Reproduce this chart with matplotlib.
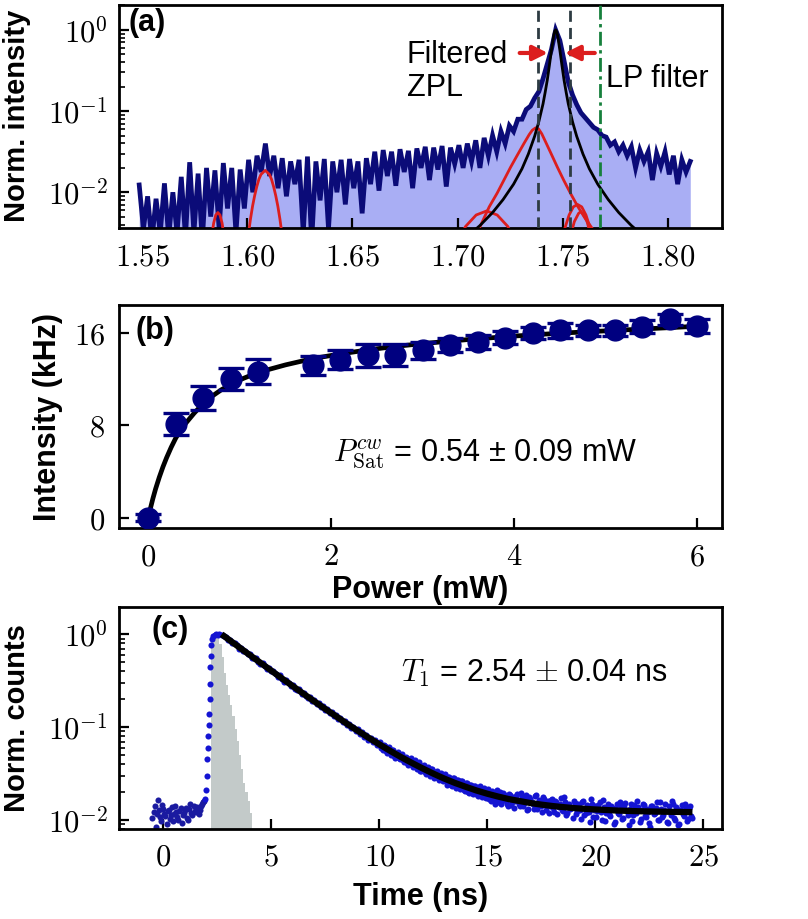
import matplotlib.pyplot as plt
import numpy as np
from matplotlib.ticker import FixedLocator, FuncFormatter, NullFormatter

# ---------------------------------------------------------------- (a) spectrum
# log10 of the normalized PL intensity, sampled every 2 meV from 1.5486 eV
spec_start = 1.5486
spec_step = 0.002
spec_log10 = [
    -1.91, -2.45, -2.05, -2.60, -2.08, -2.50, -1.89, -2.55, -2.00, -2.50,
    -1.81, -2.55, -1.63, -2.50, -1.77, -2.60, -1.70, -2.30, -1.73, -2.45,
    -1.64, -2.20, -1.70, -2.50, -1.72, -2.20, -1.60, -2.00, -1.55, -1.75,
    -1.40, -1.80, -1.55, -1.95, -1.58, -2.05, -1.62, -1.90, -1.60, -2.50,
    -1.56, -2.60, -1.62, -2.10, -1.59, -2.45, -1.62, -2.00, -1.60, -2.15,
    -1.59, -1.95, -1.62, -2.26, -1.58, -1.90, -1.50, -1.98, -1.48, -1.80,
    -1.50, -1.92, -1.47, -1.75, -1.49, -1.95, -1.46, -1.70, -1.44, -1.85,
    -1.45, -1.72, -1.43, -1.93, -1.45, -1.65, -1.42, -1.70, -1.40, -1.62,
    -1.36, -1.70, -1.33, -1.55, -1.30, -1.50, -1.25, -1.40, -1.18, -1.25,
    -1.10, -1.10, -0.98, -0.94, -0.84, -0.76, -0.60, -0.42, -0.24, 0.00,
    -0.13, -0.38, -0.64, -0.80, -0.92, -1.02, -1.08, -1.14, -1.20, -1.23,
    -1.30, -1.32, -1.42, -1.38, -1.50, -1.42, -1.55, -1.44, -1.70, -1.48,
    -1.62, -1.50, -1.85, -1.52, -1.68, -1.50, -1.78, -1.55, -1.90, -1.60,
    -1.75, -1.62,
]

# ZPL Lorentzian fit (black)
zpl_energy = [
    1.7066, 1.7106, 1.7166, 1.7216, 1.7266, 1.7306, 1.7336, 1.7366, 1.7386,
    1.7406, 1.7416, 1.7426, 1.7436, 1.7446, 1.7456, 1.7461, 1.7466, 1.7471,
    1.7476, 1.7486, 1.7496, 1.7506, 1.7516, 1.7526, 1.7546, 1.7566, 1.7596,
    1.7626, 1.7666, 1.7716, 1.7766, 1.7826, 1.7866,
]
zpl_log10 = [
    -2.50, -2.41, -2.25, -2.09, -1.90, -1.71, -1.53, -1.31, -1.13,
    -0.91, -0.77, -0.62, -0.44, -0.25, -0.08, -0.02, 0.00, -0.02,
    -0.08, -0.25, -0.44, -0.62, -0.77, -0.91, -1.13, -1.31, -1.53,
    -1.71, -1.90, -2.09, -2.25, -2.41, -2.50,
]

# phonon side band components (red)
psb1_energy = [1.582, 1.583, 1.584, 1.585, 1.586, 1.587, 1.588, 1.589, 1.590]
psb1_log10 = [-2.78, -2.55, -2.38, -2.28, -2.25, -2.28, -2.38, -2.55, -2.78]

psb2_energy = [1.5985, 1.6005, 1.6015, 1.6025, 1.6035, 1.6045, 1.6055, 1.6065,
               1.6085, 1.6105, 1.6115, 1.6125, 1.6135, 1.6145, 1.6155, 1.6165,
               1.6185]
psb2_log10 = [-2.96, -2.52, -2.33, -2.17, -2.04, -1.93, -1.84, -1.78,
              -1.73, -1.78, -1.84, -1.93, -2.04, -2.17, -2.33, -2.52,
              -2.96]

psb3_energy = [1.6938, 1.6988, 1.7038, 1.7088, 1.7138, 1.7188, 1.7238,
               1.7288, 1.7338]
psb3_log10 = [-2.99, -2.66, -2.42, -2.28, -2.23, -2.28, -2.42, -2.66, -2.99]

psb4_energy = [1.700, 1.705, 1.710, 1.7125, 1.715, 1.7188, 1.722, 1.7252,
               1.728, 1.7315, 1.734, 1.7355, 1.7371, 1.7385, 1.740, 1.7411,
               1.744, 1.7474, 1.7505, 1.7538, 1.757, 1.7601, 1.7641, 1.768,
               1.772]
psb4_log10 = [-2.95, -2.72, -2.46, -2.32, -2.18, -2.01, -1.85, -1.69,
              -1.56, -1.40, -1.29, -1.235, -1.206, -1.22, -1.28, -1.34,
              -1.50, -1.69, -1.855, -2.02, -2.17, -2.30, -2.45, -2.62,
              -2.80]

psb5_energy = [1.749, 1.751, 1.753, 1.755, 1.757, 1.759, 1.761, 1.763, 1.765]
psb5_log10 = [-2.67, -2.44, -2.28, -2.18, -2.15, -2.18, -2.28, -2.44, -2.67]

psb6_energy = [1.7515, 1.7535, 1.7555, 1.7575, 1.7585, 1.7595, 1.7615,
               1.7635, 1.7655]
psb6_log10 = [-2.85, -2.55, -2.36, -2.26, -2.24, -2.26, -2.36, -2.55, -2.85]

filter_edges = [1.7384, 1.7534]
lp_filter = 1.7676

# ---------------------------------------------------------- (b) saturation
power = [0.0, 0.3, 0.6, 0.9, 1.2, 1.8, 2.1, 2.4, 2.7, 3.0,
         3.3, 3.6, 3.9, 4.2, 4.5, 4.8, 5.1, 5.4, 5.7, 6.0]
count_rate = [0.0, 8.1, 10.35, 12.0, 12.65, 13.2, 13.7, 14.1, 14.1, 14.5,
              14.95, 15.25, 15.6, 16.0, 16.25, 16.25, 16.25, 16.55, 17.2, 16.6]
count_err = [0.3, 0.95, 1.05, 0.95, 1.1, 0.85, 0.8, 1.0, 0.95, 0.75,
             0.6, 0.6, 0.55, 0.5, 0.65, 0.5, 0.5, 0.55, 0.5, 0.6]

sat_power = [0, 0.02, 0.05, 0.08, 0.12, 0.16, 0.2, 0.25, 0.3, 0.35, 0.4,
             0.5, 0.6, 0.7, 0.8, 1.0, 1.2, 1.5, 1.8, 2.1, 2.4, 2.7, 3.0,
             3.5, 4.0, 4.5, 5.0, 5.5, 6.0]
sat_rate = [0, 0.7, 1.65, 2.5, 3.5, 4.4, 5.2, 6.1, 6.9, 7.55, 8.1,
            9.05, 9.9, 10.55, 11.1, 11.95, 12.6, 13.25, 13.8, 14.2, 14.55,
            14.85, 15.1, 15.45, 15.75, 16.0, 16.2, 16.4, 16.6]

# ------------------------------------------------------------ (c) lifetime
# counts on a 0.1 ns grid, plus a second set offset by 0.05 ns
pre_start = -0.5
pre_counts = [
    0.0105, 0.0140, 0.0115, 0.0128, 0.0098, 0.0132, 0.0110, 0.0125, 0.0102,
    0.0138, 0.0115, 0.0122, 0.0100, 0.0135, 0.0112, 0.0128, 0.0105, 0.0130,
    0.0118, 0.0140, 0.0122, 0.0135, 0.0128, 0.0150, 0.0160,
]
pre_b_start = -0.45
pre_b_counts = [
    0.0122, 0.0085, 0.0166, 0.0108, 0.0145, 0.0115, 0.0090, 0.0128, 0.0112,
    0.0098, 0.0142, 0.0108, 0.0125, 0.0092, 0.0118, 0.0135, 0.0100, 0.0148,
    0.0112, 0.0125, 0.0138, 0.0115, 0.0142, 0.0155,
]

rise_time = [1.95, 2.0, 2.02, 2.04, 2.06, 2.08, 2.10, 2.12, 2.14, 2.16,
             2.18, 2.20, 2.23, 2.27, 2.32, 2.38, 2.45, 2.52, 2.6]
rise_counts = [0.017, 0.021, 0.03, 0.045, 0.06, 0.08, 0.105, 0.14, 0.2, 0.29,
               0.44, 0.58, 0.77, 0.90, 0.95, 0.98, 1.0, 0.99, 1.0]

decay_start = 2.7
decay_counts = [
    0.99, 0.97, 0.93, 0.87, 0.86, 0.80, 0.81, 0.77, 0.70, 0.72,
    0.66, 0.66, 0.61, 0.62, 0.56, 0.55, 0.55, 0.50, 0.48, 0.49,
    0.45, 0.42, 0.43, 0.40, 0.40, 0.37, 0.35, 0.36, 0.33, 0.31,
    0.32, 0.30, 0.28, 0.285, 0.26, 0.25, 0.255, 0.23, 0.235, 0.215,
    0.205, 0.21, 0.19, 0.195, 0.178, 0.18, 0.164, 0.167, 0.152, 0.156,
    0.142, 0.145, 0.131, 0.134, 0.121, 0.126, 0.114, 0.116, 0.105, 0.109,
    0.098, 0.101, 0.092, 0.095, 0.085, 0.088, 0.079, 0.083, 0.073, 0.077,
    0.070, 0.072, 0.064, 0.068,
    0.060, 0.064, 0.056, 0.060, 0.053, 0.057, 0.049, 0.053, 0.047, 0.050,
    0.044, 0.047, 0.041, 0.045, 0.039, 0.042, 0.037, 0.040, 0.034, 0.038,
    0.033, 0.036, 0.031, 0.035, 0.030, 0.033, 0.028, 0.031, 0.027, 0.030,
    0.026, 0.029, 0.024, 0.028, 0.023, 0.027, 0.0225, 0.026, 0.021, 0.025,
    0.020, 0.024, 0.0195, 0.023, 0.019, 0.022, 0.0185, 0.021, 0.0175, 0.021,
    0.0170, 0.0205, 0.0168, 0.0195, 0.0158, 0.0200, 0.0162, 0.0185, 0.0150,
    0.0190, 0.0145, 0.0178, 0.0160, 0.0192, 0.0140, 0.0175, 0.0152, 0.0185,
    0.0133, 0.0170, 0.0148, 0.0180, 0.0130, 0.0165, 0.0143, 0.0176, 0.0128,
    0.0160, 0.0140, 0.0168, 0.0122, 0.0158, 0.0138, 0.0172, 0.0125, 0.0155,
    0.0118, 0.0150, 0.0135, 0.0162, 0.0115, 0.0148, 0.0128, 0.0158, 0.0112,
    0.0145, 0.0122, 0.0168, 0.0108, 0.0142, 0.0125, 0.0155, 0.0100, 0.0138,
    0.0118, 0.0150, 0.0110, 0.0135, 0.0095, 0.0148, 0.0115, 0.0140, 0.0105,
    0.0152, 0.0112, 0.0132, 0.0098, 0.0145, 0.0118, 0.0138, 0.0102, 0.0150,
    0.0110, 0.0130, 0.0092, 0.0142, 0.0115, 0.0135, 0.0100, 0.0155, 0.0108,
    0.0128, 0.0096, 0.0140, 0.0112, 0.0148, 0.0100, 0.0132, 0.0090, 0.0145,
    0.0110, 0.0135, 0.0102, 0.0140, 0.0105,
]
tail_b_start = 10.05
tail_b_counts = [
    0.069, 0.057, 0.063, 0.053, 0.061, 0.050, 0.057, 0.047, 0.054, 0.045,
    0.051, 0.042, 0.048, 0.039, 0.046, 0.037, 0.044, 0.035, 0.042, 0.034,
    0.039, 0.031, 0.037, 0.030, 0.035, 0.028, 0.034, 0.027, 0.032, 0.026,
    0.031, 0.024, 0.029, 0.023, 0.028, 0.022, 0.027, 0.0215, 0.026, 0.0205,
    0.025, 0.0195, 0.024, 0.019, 0.0235, 0.018, 0.023, 0.0178, 0.022, 0.0172,
    0.0215, 0.0160, 0.0190, 0.0150, 0.0210, 0.0172, 0.0148, 0.0195, 0.0165,
    0.0140, 0.0185, 0.0158, 0.0135, 0.0180, 0.0150, 0.0195, 0.0142, 0.0168,
    0.0128, 0.0175, 0.0155, 0.0130, 0.0185, 0.0140, 0.0162, 0.0122, 0.0170,
    0.0148, 0.0118, 0.0165, 0.0135, 0.0160, 0.0115, 0.0150, 0.0128, 0.0178,
    0.0112, 0.0145, 0.0132, 0.0105, 0.0152, 0.0125, 0.0140, 0.0102, 0.0160,
    0.0118, 0.0138, 0.0095, 0.0150, 0.0128, 0.0108, 0.0145, 0.0122, 0.0165,
    0.0098, 0.0135, 0.0115, 0.0142, 0.0090, 0.0130, 0.0120, 0.0155, 0.0102,
    0.0138, 0.0125, 0.0088, 0.0148, 0.0112, 0.0130, 0.0160, 0.0095, 0.0128,
    0.0145, 0.0108, 0.0122, 0.0085, 0.0140, 0.0118, 0.0158, 0.0100, 0.0132,
    0.0112, 0.0150, 0.0092, 0.0125, 0.0162, 0.0105, 0.0138, 0.0088, 0.0128,
    0.0115, 0.0150, 0.0098, 0.0135, 0.0110,
]

fit_time = [2.7, 3.0, 3.5, 4.0, 4.5, 5.0, 5.5, 6.0, 6.5, 7.0, 7.5, 8.0,
            8.5, 9.0, 9.5, 10.0, 10.5, 11.0, 11.5, 12.0, 12.5, 13.0, 13.5,
            14.0, 14.5, 15.0, 15.5, 16.0, 16.5, 17.0, 17.5, 18.0, 18.5,
            19.0, 19.5, 20.0, 21.0, 22.0, 23.0, 24.5]
fit_counts = [1.0, 0.888, 0.729, 0.599, 0.493, 0.406, 0.334, 0.276, 0.228,
              0.189, 0.157, 0.131, 0.109, 0.0915, 0.0771, 0.0653, 0.0556,
              0.0477, 0.0413, 0.0360, 0.0316, 0.0280, 0.0251, 0.0228,
              0.0208, 0.0192, 0.0179, 0.0168, 0.0160, 0.01524, 0.01466,
              0.01417, 0.01378, 0.01345, 0.0132, 0.0130, 0.01265, 0.01244,
              0.0123, 0.01216]

# instrument response histogram: bin edges and log10 of each bin
irf_edges = [2.22, 2.3, 2.4, 2.5, 2.6, 2.7, 2.8, 2.9, 3.0, 3.1, 3.2, 3.3,
             3.4, 3.5, 3.6, 3.7, 3.8, 3.9, 4.0, 4.1]
irf_log10 = [-0.05, -0.02, 0.0, -0.03, -0.10, -0.25, -0.42, -0.55, -0.65,
             -0.76, -0.88, -1.02, -1.15, -1.30, -1.45, -1.60, -1.70, -1.80,
             -1.92]

# ------------------------------------------------------------------ styling
NAVY = "#0b0b78"
FILL = "#a9aef4"
RED = "#dc1e1e"
SCAT = "#1414d2"
IRF = "#c3cac9"

plt.rcParams["font.family"] = ["Liberation Sans", "DejaVu Sans"]
plt.rcParams["mathtext.fontset"] = "cm"
plt.rcParams["axes.linewidth"] = 2.0

TICK_FS = 22
LABEL_FS = 22

fig = plt.figure(figsize=(8.08, 9.19), dpi=100)

ax_a = fig.add_axes([0.1473, 0.7516, 0.7463, 0.2430])
ax_b = fig.add_axes([0.1473, 0.4252, 0.7463, 0.2430])
ax_c = fig.add_axes([0.1473, 0.0979, 0.7463, 0.2419])


def style_axis(ax):

    ax.tick_params(
        which="major",
        direction="in",
        length=7,
        width=1.6,
        labelsize=TICK_FS,
        top=False,
        right=False,
    )

    ax.tick_params(axis="x", pad=10)
    ax.tick_params(axis="y", pad=8)

    ax.tick_params(
        which="minor",
        direction="in",
        length=4,
        width=1.2,
        top=False,
        right=False,
    )


def log_labels(value, pos):

    return r"$10^{%d}$" % int(round(np.log10(value)))


# --------------------------------------------------------------- panel (a)
energy = np.round(spec_start + spec_step * np.arange(len(spec_log10)), 4)
spectrum = np.power(10.0, spec_log10)

ax_a.fill_between(energy, 1e-5, spectrum, color=FILL, lw=0, zorder=1)
ax_a.plot(energy, spectrum, color=NAVY, lw=3.4, zorder=2,
          solid_joinstyle="miter")

for e, v in [
    (psb1_energy, psb1_log10),
    (psb2_energy, psb2_log10),
    (psb3_energy, psb3_log10),
    (psb4_energy, psb4_log10),
    (psb5_energy, psb5_log10),
    (psb6_energy, psb6_log10),
]:
    ax_a.plot(e, np.power(10.0, v), color=RED, lw=2.0, zorder=3)

ax_a.plot(zpl_energy, np.power(10.0, zpl_log10), color="black", lw=2.0, zorder=4)

for edge in filter_edges:
    ax_a.axvline(edge, color="#2d3b42", lw=2.0, ls=(0, (4, 2.2)), zorder=5)

ax_a.axvline(lp_filter, color="#16803c", lw=2.0, ls=(0, (5, 1.6, 1.2, 1.6)), zorder=5)

arrow = dict(arrowstyle="-|>", color=RED, lw=3, mutation_scale=22,
             shrinkA=0, shrinkB=0)
ax_a.annotate("", xy=(1.7429, 0.52), xytext=(1.7295, 0.52), arrowprops=arrow, zorder=6)
ax_a.annotate("", xy=(1.7510, 0.52), xytext=(1.7652, 0.52), arrowprops=arrow, zorder=6)

ax_a.text(1.6757, 0.395, "Filtered", fontsize=LABEL_FS, va="baseline", ha="left")
ax_a.text(1.6757, 0.153, "ZPL", fontsize=LABEL_FS, va="baseline", ha="left")
ax_a.text(1.7705, 0.198, "LP filter", fontsize=LABEL_FS, va="baseline", ha="left")

ax_a.set_yscale("log")
ax_a.set_xlim(1.539, 1.8257)
ax_a.set_ylim(0.0036, 2.03)
ax_a.xaxis.set_major_locator(FixedLocator([1.55, 1.60, 1.65, 1.70, 1.75, 1.80]))
ax_a.xaxis.set_major_formatter(FuncFormatter(lambda v, p: r"$%.2f$" % v))
ax_a.yaxis.set_major_locator(FixedLocator([1e-2, 1e-1, 1e0]))
ax_a.yaxis.set_major_formatter(FuncFormatter(log_labels))
ax_a.yaxis.set_minor_formatter(NullFormatter())
style_axis(ax_a)

ax_a.text(0.0155, 0.985, "(a)", transform=ax_a.transAxes, fontsize=LABEL_FS,
          fontweight="bold", va="top", ha="left")

# --------------------------------------------------------------- panel (b)
ax_b.plot(sat_power, sat_rate, color="black", lw=3.4, zorder=2)
ax_b.errorbar(power, count_rate, yerr=count_err, fmt="o", color="navy",
              ms=15, capsize=9.5, elinewidth=2.4, capthick=2.4, zorder=3)

ax_b.text(2.02, 4.87, r"$P^{cw}_{\mathrm{Sat}}$ = 0.54 ± 0.09 mW",
          fontsize=LABEL_FS, va="baseline", ha="left")

ax_b.set_xlim(-0.32, 6.27)
ax_b.set_ylim(-0.92, 18.45)
ax_b.xaxis.set_major_locator(FixedLocator([0, 2, 4, 6]))
ax_b.yaxis.set_major_locator(FixedLocator([0, 8, 16]))
ax_b.xaxis.set_major_formatter(FuncFormatter(lambda v, p: r"$%g$" % v))
ax_b.yaxis.set_major_formatter(FuncFormatter(lambda v, p: r"$%g$" % v))
style_axis(ax_b)
ax_b.tick_params(axis="y", pad=10)

ax_b.text(0.028, 0.951, "(b)", transform=ax_b.transAxes, fontsize=LABEL_FS,
          fontweight="bold", va="top", ha="left")

# --------------------------------------------------------------- panel (c)
pre_time = np.round(pre_start + 0.1 * np.arange(len(pre_counts)), 2)
pre_b_time = np.round(pre_b_start + 0.1 * np.arange(len(pre_b_counts)), 2)
decay_time = np.round(decay_start + 0.1 * np.arange(len(decay_counts)), 2)
tail_b_time = np.round(tail_b_start + 0.1 * np.arange(len(tail_b_counts)), 2)

ax_c.stairs(np.power(10.0, irf_log10), irf_edges, baseline=1e-4, fill=True,
            color=IRF, lw=0, zorder=1)

dots = dict(ls="none", marker="o", ms=4.4, mew=0, zorder=2)
ax_c.plot(pre_time, pre_counts, color="#1a1aa0", **dots)
ax_c.plot(pre_b_time, pre_b_counts, color="#1a1aa0", **dots)
ax_c.plot(rise_time, rise_counts, color=SCAT, **dots)
ax_c.plot(decay_time, decay_counts, color=SCAT, **dots)
ax_c.plot(tail_b_time, tail_b_counts, color=SCAT, **dots)
ax_c.plot(fit_time, fit_counts, color="black", lw=4.5, zorder=3,
          solid_capstyle="butt")

ax_c.text(11.0, 0.307, r"$T_1$ = 2.54 $\pm$ 0.04 ns", fontsize=LABEL_FS,
          va="baseline", ha="left")

ax_c.set_yscale("log")
ax_c.set_xlim(-2.05, 25.87)
ax_c.set_ylim(0.0080, 1.98)
ax_c.xaxis.set_major_locator(FixedLocator([0, 5, 10, 15, 20, 25]))
ax_c.xaxis.set_major_formatter(FuncFormatter(lambda v, p: r"$%g$" % v))
ax_c.yaxis.set_major_locator(FixedLocator([1e-2, 1e-1, 1e0]))
ax_c.yaxis.set_major_formatter(FuncFormatter(log_labels))
ax_c.yaxis.set_minor_formatter(NullFormatter())
style_axis(ax_c)

ax_c.text(0.054, 0.963, "(c)", transform=ax_c.transAxes, fontsize=LABEL_FS,
          fontweight="bold", va="top", ha="left")

# ---------------------------------------------------------- axis labels
fig.text(0.0215, 0.8738, "Norm. intensity", rotation=90, fontsize=21,
         fontweight="bold", ha="center", va="center")
fig.text(0.060, 0.5466, "Intensity (kHz)", rotation=90, fontsize=LABEL_FS,
         fontweight="bold", ha="center", va="center")
fig.text(0.0215, 0.2187, "Norm. counts", rotation=90, fontsize=21,
         fontweight="bold", ha="center", va="center")
fig.text(0.5205, 0.358, "Power (mW)", fontsize=LABEL_FS, fontweight="bold",
         ha="center", va="center")
fig.text(0.5205, 0.0243, "Time (ns)", fontsize=LABEL_FS, fontweight="bold",
         ha="center", va="center")

fig.savefig("out.png", dpi=100)
